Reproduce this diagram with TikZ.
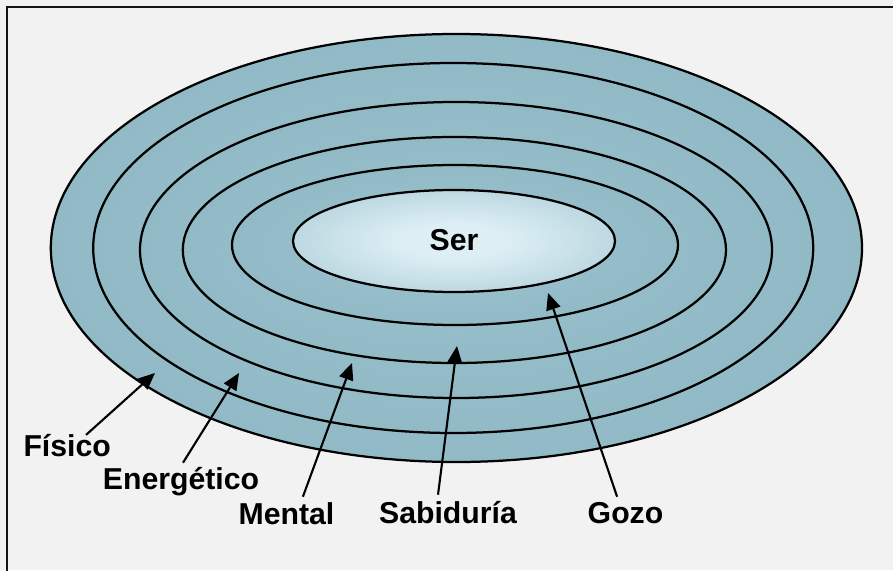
\documentclass[tikz,border=0pt]{standalone}
\usepackage{fontspec}
\setmainfont{Liberation Sans}
\usepackage{xcolor}
\usepackage{tikz}
\usetikzlibrary{arrows.meta,calc}
\definecolor{paper}{HTML}{F2F2F2}
\definecolor{frameline}{HTML}{141414}
\definecolor{ringdark}{HTML}{82ACBB}
\definecolor{ringmid}{HTML}{8EB7C4}
\definecolor{ringlight}{HTML}{A0C6D1}
\definecolor{corelight}{HTML}{DDEFF5}
\pgfdeclareradialshading{ringband}{\pgfpointorigin}{color(0bp)=(ringlight); color(30bp)=(ringmid); color(38bp)=(ringdark); color(44bp)=(ringlight); color(50bp)=(ringdark)}
\pgfdeclareradialshading{coreglow}{\pgfpointorigin}{color(0bp)=(corelight); color(8bp)=(corelight); color(50bp)=(ringmid)}
\tikzset{
  ring/.style={shading=ringband, draw=black, line width=1.6pt},
  core/.style={shading=coreglow, draw=black, line width=1.6pt},
  ringname/.style={font=\fontsize{21.5}{25}\selectfont\bfseries, inner sep=0pt, anchor=base, text height=0.52cm},
  pointer/.style={-{Triangle[length=0.42cm, width=0.36cm]}, line width=1.5pt}
}

\begin{document}
\begin{tikzpicture}[x=1cm,y=1cm]
\useasboundingbox (0,0) rectangle (22.325,14.25);
\fill[paper] (0,0) rectangle (22.325,14.25);
\draw[frameline, line width=1.5pt, line join=miter] (0.175,-0.2) -- (0.175,14.075) -- (22.6,14.075);

% nested layers, outer to inner
\foreach \cx/\cy/\rx/\ry in {11.41/8.05/10.14/5.35, 11.33/8.05/9.00/4.625, 11.40/8.00/7.90/3.70, 11.36/8.00/6.79/2.825, 11.375/8.125/5.575/2.00}
  \shadedraw[ring] (\cx,\cy) ellipse [x radius=\rx cm, y radius=\ry cm];
\shadedraw[core] (11.35,8.225) ellipse [x radius=4.025cm, y radius=1.275cm];
\node[ringname] (ser) at (11.35,8.0) {Ser};

\coordinate (fisicotip) at (3.875,4.925);
\coordinate (energeticotip) at (5.975,4.925);
\coordinate (mentaltip) at (8.80,5.175);
\coordinate (sabiduriatip) at (11.425,5.60);
\coordinate (gozotip) at (13.70,6.925);

\node[ringname] (fisico) at (1.68,2.85) {Físico};
\node[ringname] (energetico) at (4.525,2.025) {Energético};
\node[ringname] (mental) at (7.1625,1.15) {Mental};
\node[ringname] (sabiduria) at (11.20,1.175) {Sabiduría};
\node[ringname] (gozo) at (15.6375,1.175) {Gozo};

\draw[pointer] ([xshift=0.47cm]fisico.north) -- (fisicotip);
\draw[pointer] ([shift={(0.05,0.13)}]energetico.north) -- (energeticotip);
\draw[pointer] ([shift={(0.41,0.155)}]mental.north) -- (mentaltip);
\draw[pointer] ([shift={(-0.25,0.18)}]sabiduria.north) -- (sabiduriatip);
\draw[pointer] ([shift={(-0.21,0.13)}]gozo.north) -- (gozotip);
\end{tikzpicture}
\end{document}
